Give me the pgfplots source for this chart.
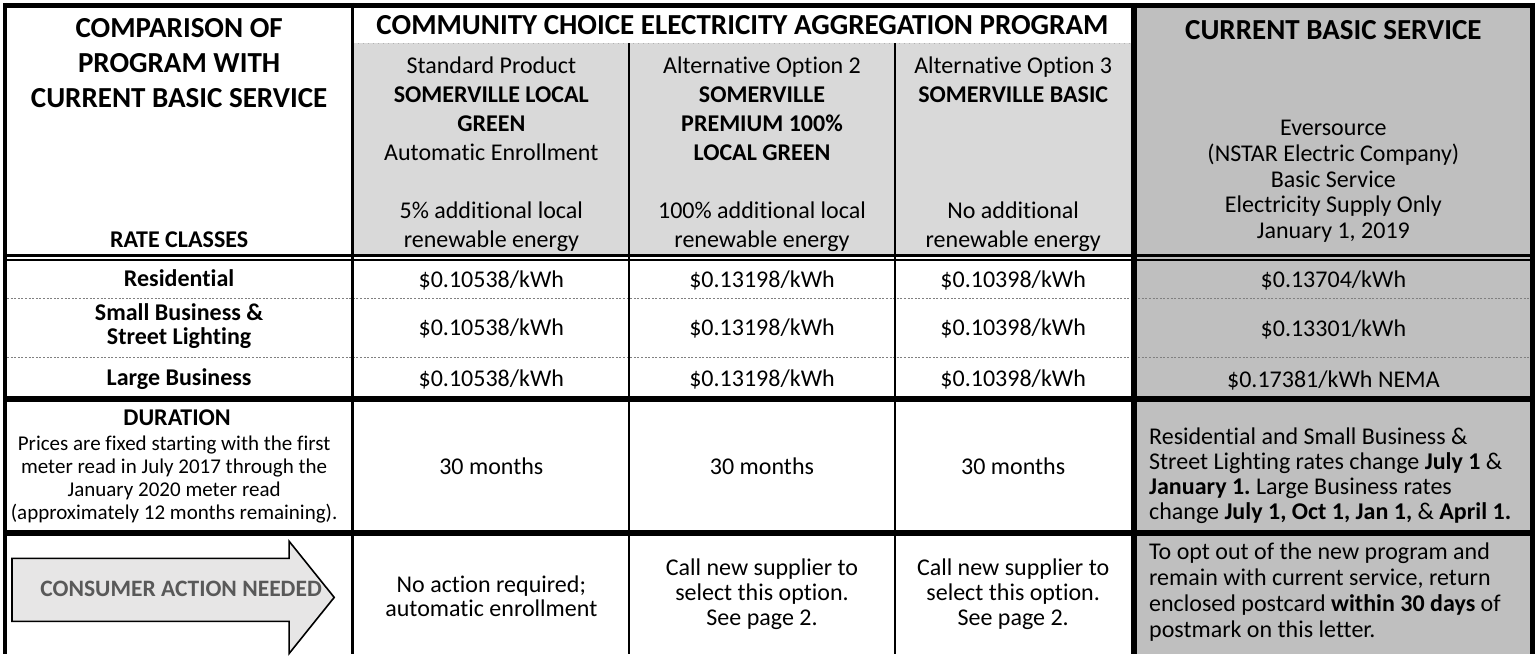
\documentclass[border=0pt]{standalone}
\usepackage{pgfplots}
\pgfplotsset{compat=1.18}
\usepackage{fontspec}
\setmainfont{Carlito}[Ligatures={NoCommon}]
\frenchspacing
\definecolor{hdrgray}{HTML}{D9D9D9}
\definecolor{colgray}{HTML}{BFBFBF}
\definecolor{arrowgray}{HTML}{E7E6E6}
\definecolor{arrowtext}{HTML}{595959}
\tikzset{
  hd/.style={font=\fontsize{14.5}{16}\selectfont\bfseries, anchor=base, yshift=-4.67pt, inner sep=0pt},
  bd/.style={font=\fontsize{12}{14}\selectfont, anchor=base, yshift=-3.86pt, inner sep=0pt},
  bb/.style={font=\fontsize{12}{14}\selectfont\bfseries, anchor=base, yshift=-3.86pt, inner sep=0pt},
  sm/.style={font=\fontsize{10.5}{12}\selectfont, anchor=base, yshift=-3.38pt, inner sep=0pt},
  lf/.style={font=\fontsize{12}{14}\selectfont, anchor=base west, yshift=-3.86pt, inner sep=0pt},
}
\begin{document}
\begin{tikzpicture}
\begin{axis}[scale only axis, width=769pt, height=325.5pt,
  xmin=0, xmax=1538, ymin=0, ymax=651, y dir=reverse, hide axis, clip=false]
% ---- fills ----
\addplot[fill=hdrgray, draw=none] coordinates {(356,40) (1134,40) (1134,252) (356,252)} -- cycle;
\addplot[fill=colgray, draw=none] coordinates {(1136,0) (1535,0) (1535,651) (1136,651)} -- cycle;
% ---- arrow ----
\addplot[fill=arrowgray, draw=black, line width=0.8pt] coordinates {(15,555) (292,555) (292,538) (337,594) (292,650) (292,618) (15,618)} -- cycle;
% ---- dotted separators ----
\addplot[gray!60, line width=0.5pt, dotted] coordinates {(356,40) (1134,40)};
\addplot[gray, line width=0.6pt, dash pattern=on 1pt off 0.8pt] coordinates {(10,295) (1533,295)};
\addplot[gray, line width=0.6pt, dash pattern=on 1pt off 0.8pt] coordinates {(10,354) (1533,354)};
% ---- horizontal rules ----
\addplot[black, line width=2.5pt] coordinates {(6,2.5) (1537,2.5)};
\addplot[black, line width=1.5pt] coordinates {(6,252.5) (1537,252.5)};
\addplot[black, line width=0.9pt] coordinates {(6,256.5) (1537,256.5)};
\addplot[black, line width=3pt] coordinates {(6,396) (1537,396)};
\addplot[black, line width=3pt] coordinates {(6,530) (1537,530)};
% ---- vertical rules ----
\addplot[black, line width=2pt] coordinates {(8,0) (8,651)};
\addplot[black, line width=1.3pt] coordinates {(355.5,0) (355.5,651)};
\addplot[black, line width=1pt] coordinates {(632,40) (632,651)};
\addplot[black, line width=1pt] coordinates {(897,40) (897,651)};
\addplot[black, line width=3pt] coordinates {(1136,0) (1136,651)};
\addplot[black, line width=2.5pt] coordinates {(1534.5,0) (1534.5,651)};
% ---- header texts ----
\node[hd] at (axis cs:182,25) {COMPARISON OF};
\node[hd] at (axis cs:182,60) {PROGRAM WITH};
\node[hd] at (axis cs:182,95) {CURRENT BASIC SERVICE};
\node[bb] at (axis cs:182,237) {RATE CLASSES};
\node[hd] at (axis cs:745,22) {COMMUNITY CHOICE ELECTRICITY AGGREGATION PROGRAM};
\node[bd] at (axis cs:494,63) {Standard Product};
\node[bb] at (axis cs:494,92) {SOMERVILLE LOCAL};
\node[bb] at (axis cs:494,121) {GREEN};
\node[bd] at (axis cs:494,150) {Automatic Enrollment};
\node[bd] at (axis cs:494,208) {5\% additional local};
\node[bd] at (axis cs:494,237) {renewable energy};
\node[bd] at (axis cs:764.5,63) {Alternative Option 2};
\node[bb] at (axis cs:764.5,92) {SOMERVILLE};
\node[bb] at (axis cs:764.5,121) {PREMIUM 100\%};
\node[bb] at (axis cs:764.5,150) {LOCAL GREEN};
\node[bd] at (axis cs:764.5,208) {100\% additional local};
\node[bd] at (axis cs:764.5,237) {renewable energy};
\node[bd] at (axis cs:1015.5,63) {Alternative Option 3};
\node[bb] at (axis cs:1015.5,92) {SOMERVILLE BASIC};
\node[bd] at (axis cs:1015.5,208) {No additional};
\node[bd] at (axis cs:1015.5,237) {renewable energy};
\node[hd] at (axis cs:1335.5,27) {CURRENT BASIC SERVICE};
\node[bd] at (axis cs:1335.5,125) {Eversource};
\node[bd] at (axis cs:1335.5,151) {(NSTAR Electric Company)};
\node[bd] at (axis cs:1335.5,177) {Basic Service};
\node[bd] at (axis cs:1335.5,202) {Electricity Supply Only};
\node[bd] at (axis cs:1335.5,228) {January 1, 2019};
% ---- rate rows ----
\node[bb] at (axis cs:182,276) {Residential};
\node[bb] at (axis cs:182,310) {Small Business \&};
\node[bb] at (axis cs:182,334) {Street Lighting};
\node[bb] at (axis cs:182,375) {Large Business};
\node[bd] at (axis cs:494,277) {\$0.10538/kWh};
\node[bd] at (axis cs:494,325) {\$0.10538/kWh};
\node[bd] at (axis cs:494,376) {\$0.10538/kWh};
\node[bd] at (axis cs:764.5,277) {\$0.13198/kWh};
\node[bd] at (axis cs:764.5,325) {\$0.13198/kWh};
\node[bd] at (axis cs:764.5,376) {\$0.13198/kWh};
\node[bd] at (axis cs:1015.5,277) {\$0.10398/kWh};
\node[bd] at (axis cs:1015.5,325) {\$0.10398/kWh};
\node[bd] at (axis cs:1015.5,376) {\$0.10398/kWh};
\node[bd] at (axis cs:1335.5,277) {\$0.13704/kWh};
\node[bd] at (axis cs:1335.5,326) {\$0.13301/kWh};
\node[bd] at (axis cs:1335.5,377) {\$0.17381/kWh NEMA};
% ---- duration row ----
\node[bb] at (axis cs:180,415) {DURATION};
\node[sm] at (axis cs:177,440) {Prices are fixed starting with the first};
\node[sm] at (axis cs:177,463) {meter read in July 2017 through the};
\node[sm] at (axis cs:177,486) {January 2020 meter read};
\node[sm] at (axis cs:177,509) {(approximately 12 months remaining).};
\node[bd] at (axis cs:494,463) {30 months};
\node[bd] at (axis cs:764.5,463) {30 months};
\node[bd] at (axis cs:1015.5,463) {30 months};
\node[lf] at (axis cs:1151,433) {Residential and Small Business \&};
\node[lf] at (axis cs:1151,458) {Street Lighting rates change \textbf{July 1} \&};
\node[lf] at (axis cs:1151,483) {\textbf{January 1.} Large Business rates};
\node[lf] at (axis cs:1151,508) {change \textbf{July 1, Oct 1, Jan 1,} \& \textbf{April 1.}};
% ---- action row ----
\node[font=\fontsize{11.75}{14}\selectfont\bfseries, text=arrowtext, anchor=base, yshift=-3.8pt, inner sep=0pt] at (axis cs:184,586) {CONSUMER ACTION NEEDED};
\node[bd] at (axis cs:494,581) {No action required;};
\node[bd] at (axis cs:494,605) {automatic enrollment};
\node[bd] at (axis cs:764.5,564) {Call new supplier to};
\node[bd] at (axis cs:764.5,589) {select this option.};
\node[bd] at (axis cs:764.5,614) {See page 2.};
\node[bd] at (axis cs:1015.5,564) {Call new supplier to};
\node[bd] at (axis cs:1015.5,589) {select this option.};
\node[bd] at (axis cs:1015.5,614) {See page 2.};
\node[lf] at (axis cs:1151,548) {To opt out of the new program and};
\node[lf] at (axis cs:1151,574) {remain with current service, return};
\node[lf] at (axis cs:1151,600) {enclosed postcard \textbf{within 30 days} of};
\node[lf] at (axis cs:1151,626) {postmark on this letter.};
\end{axis}
\end{tikzpicture}
\end{document}
